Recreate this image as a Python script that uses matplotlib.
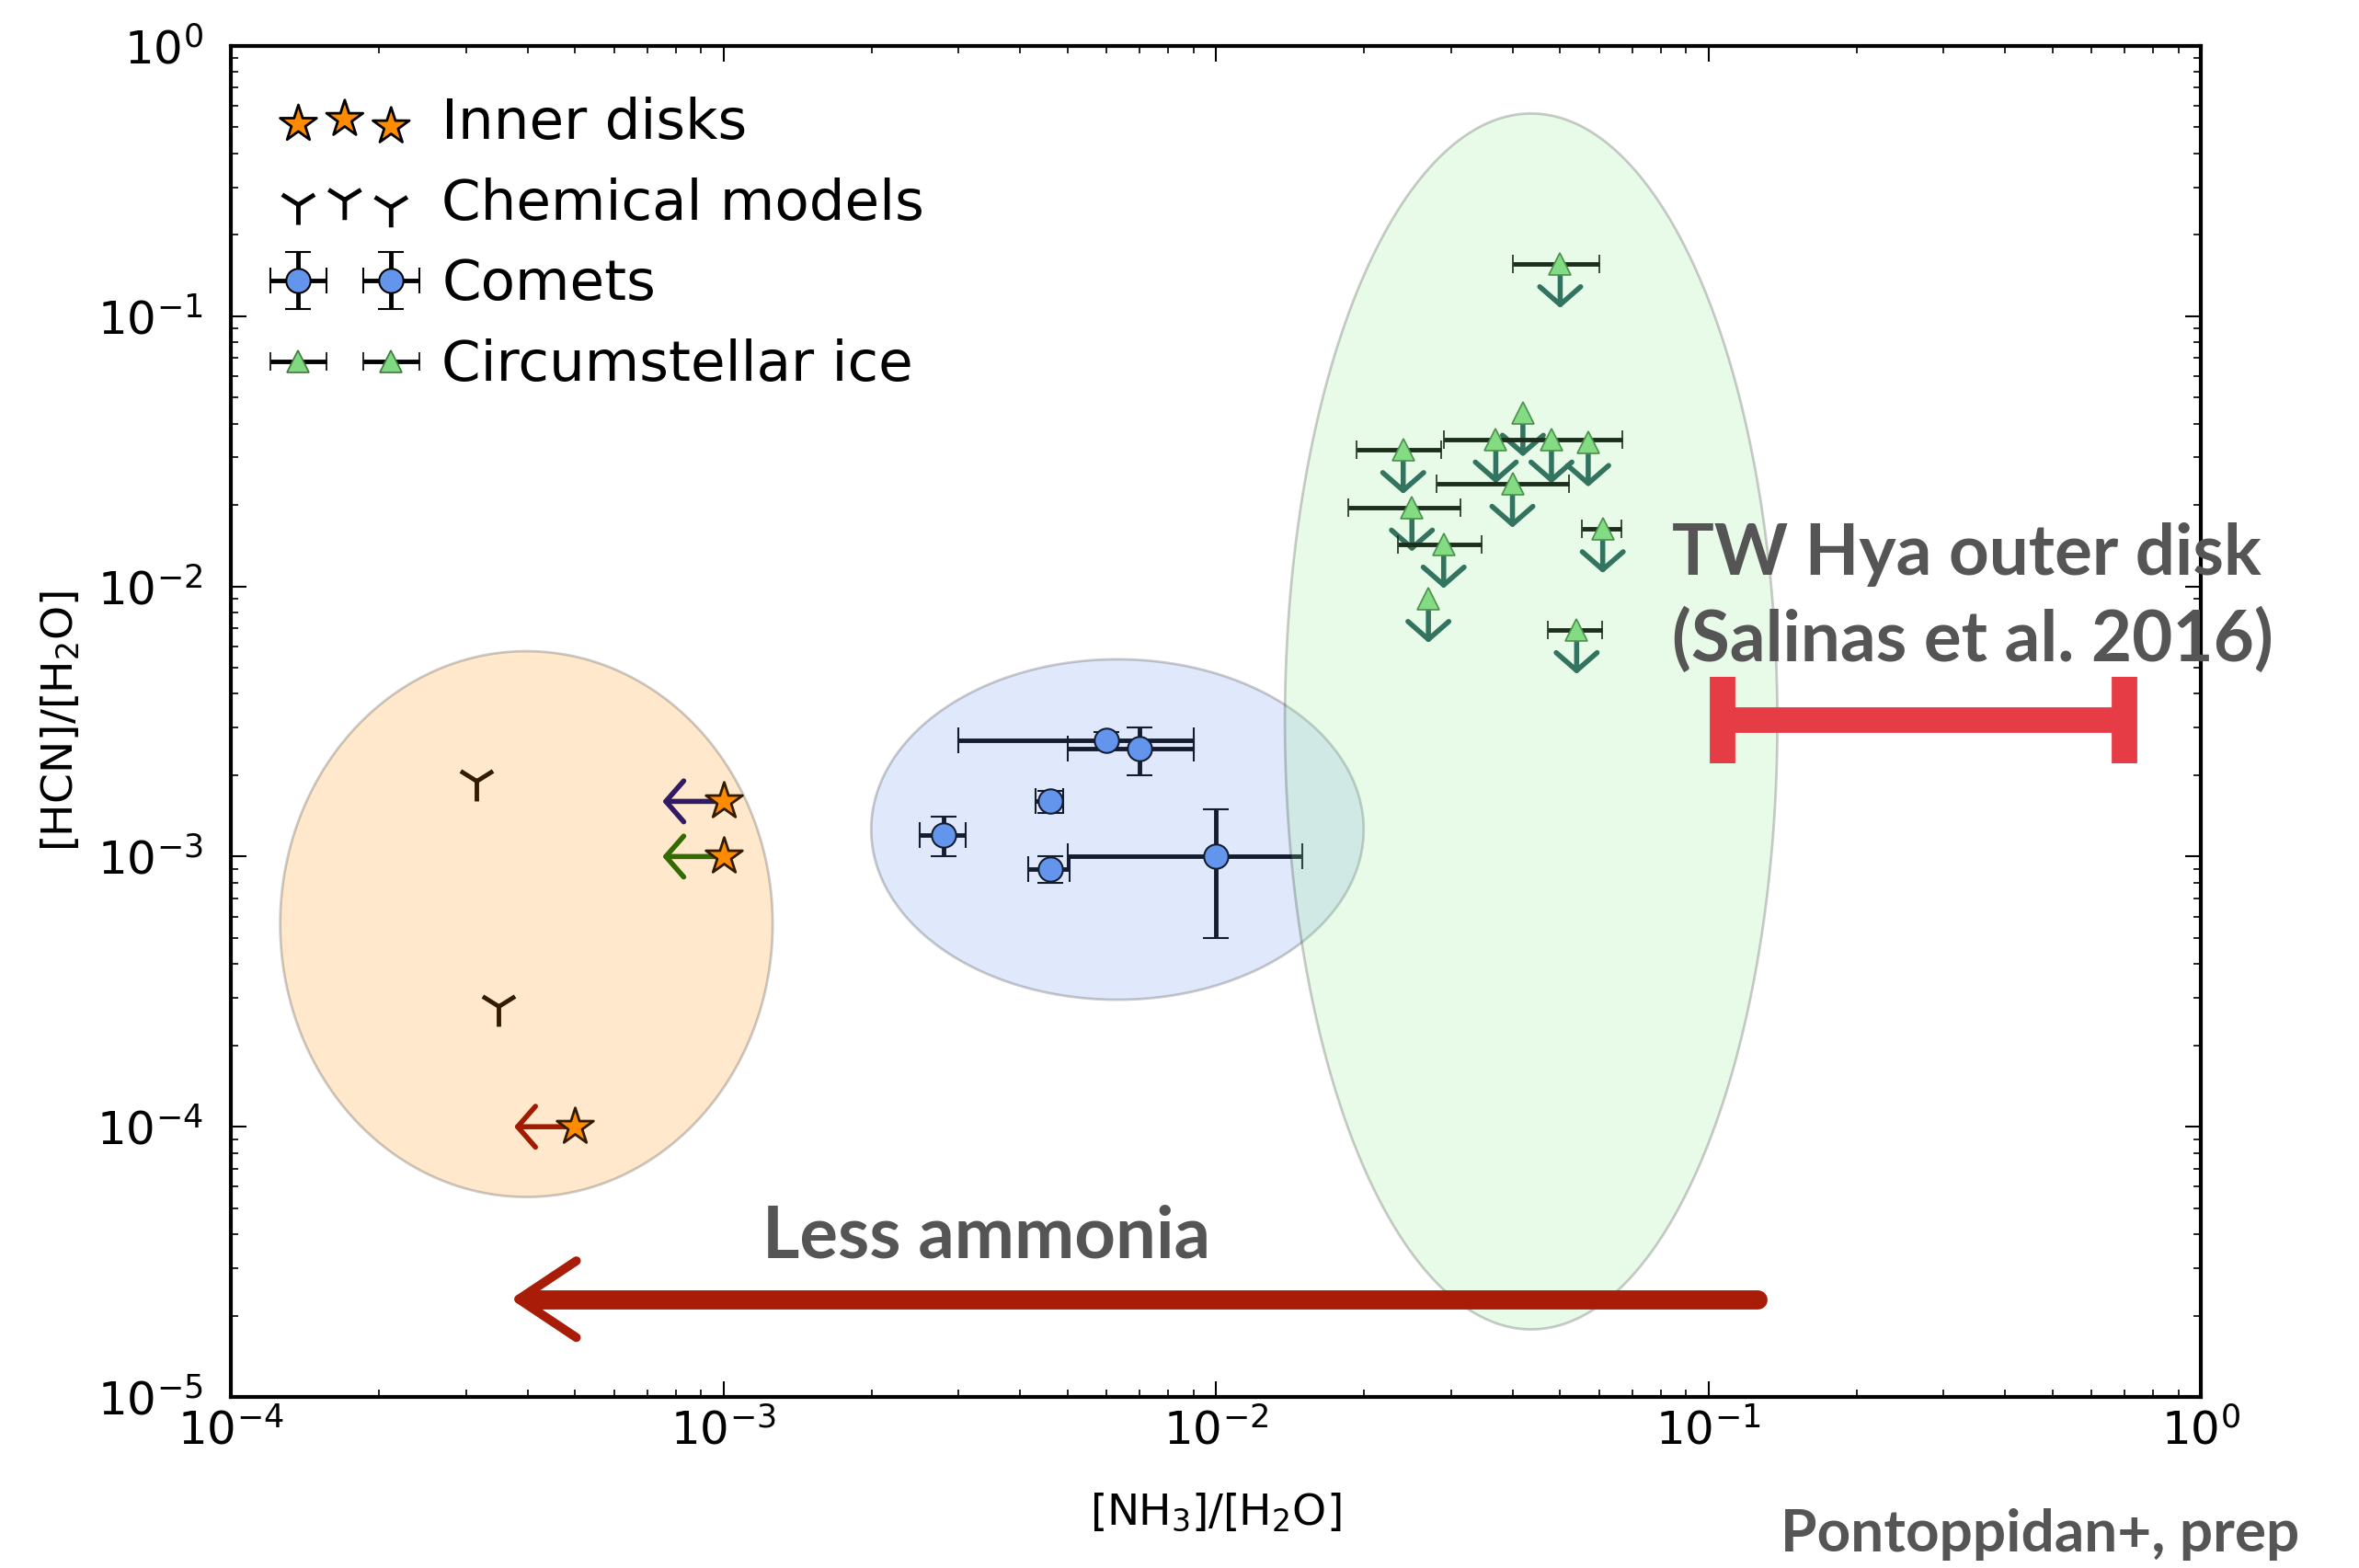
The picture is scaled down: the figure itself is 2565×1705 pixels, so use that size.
import numpy as np
import matplotlib
matplotlib.use('Agg')
import matplotlib.pyplot as plt

# inner disks (upper limits on NH3)
inner_x = [1.0e-3, 1.0e-3, 5.0e-4]
inner_y = [1.6e-3, 1.0e-3, 1.0e-4]
inner_arrow_col = ['navy', 'darkgreen', 'darkred']

# chemical models
chem_x = [3.15e-4, 3.5e-4]
chem_y = [1.9e-3, 2.8e-4]

# comets
comet_x = [6.0e-3, 7.0e-3, 4.6e-3, 2.8e-3, 4.6e-3, 1.0e-2]
comet_y = [2.7e-3, 2.5e-3, 1.6e-3, 1.2e-3, 0.9e-3, 1.0e-3]
comet_xerr = [3.0e-3, 2.0e-3, 3.0e-4, 3.0e-4, 4.4e-4, 5.0e-3]
comet_yerr = [2.0e-4, 5.0e-4, 1.5e-4, 2.0e-4, 1.0e-4, 5.0e-4]

# circumstellar ice (upper limits on HCN)
ice_x = [0.050, 0.042, 0.037, 0.048, 0.057, 0.024, 0.040, 0.025, 0.029, 0.027, 0.061, 0.054]
ice_y = [0.156, 0.044, 0.035, 0.035, 0.034, 0.032, 0.024, 0.0196, 0.0143, 0.009, 0.0163, 0.0069]
ice_xerr = [0.010, 0.0, 0.0, 0.019, 0.0, 0.0047, 0.012, 0.0064, 0.0056, 0.0, 0.0057, 0.0069]

# TW Hya outer disk range
tw_x = [0.107, 0.70]
tw_y = 3.2e-3

# "less ammonia" arrow
amm_x = [0.126, 3.7e-4]
amm_y = 2.3e-5

# shaded regions in log10 space: centre x, centre y, half width, half height
reg_cx = [-3.40, -2.20, -1.36]
reg_cy = [-3.25, -2.90, -2.50]
reg_hw = [0.50, 0.50, 0.50]
reg_hh = [1.01, 0.63, 2.25]
reg_col = ['darkorange', 'cornflowerblue', 'lightgreen']

fig = plt.figure(figsize=(25.65, 17.05), dpi=100)
ax = fig.add_axes([0.0979, 0.1091, 0.8351, 0.8616])
ax.set_xscale('log')
ax.set_yscale('log')

ax.scatter(inner_x, inner_y, marker='*', s=900, c='darkorange', edgecolors='k',
           linewidths=2, zorder=4, label='Inner disks')
for x, y, c in zip(inner_x, inner_y, inner_arrow_col):
    ax.annotate('', xy=(x / 1.33, y), xytext=(x, y),
                arrowprops=dict(arrowstyle='->,head_length=0.35,head_width=0.4', color=c,
                                lw=4, mutation_scale=40, shrinkA=0, shrinkB=0), zorder=3)

ax.scatter(chem_x, chem_y, marker='1', s=1000, c='k', linewidths=3.5, zorder=4,
           label='Chemical models')

ax.errorbar(comet_x, comet_y, xerr=comet_xerr, yerr=comet_yerr, fmt='o', mfc='cornflowerblue',
            mec='k', ms=19, mew=1.5, ecolor='k', elinewidth=3.5, capsize=10, capthick=3.5,
            zorder=3, label='Comets')

ax.errorbar(ice_x, ice_y, xerr=ice_xerr, fmt='^', mfc='#80d880', mec='#3a7a3a', ms=17, mew=1.2,
            ecolor='k', elinewidth=3.5, capsize=7, capthick=2.5, zorder=3,
            label='Circumstellar ice')
for x, y in zip(ice_x, ice_y):
    ax.annotate('', xy=(x, y * 0.687), xytext=(x, y),
                arrowprops=dict(arrowstyle='->,head_length=0.35,head_width=0.4', color='#1d5656',
                                lw=4, mutation_scale=40, shrinkA=0, shrinkB=0), zorder=2)

# shaded ellipses drawn on top with transparency
t = np.linspace(0, 2 * np.pi, 400)
for cx, cy, hw, hh, col in zip(reg_cx, reg_cy, reg_hw, reg_hh, reg_col):
    ax.fill(10 ** (cx + hw * np.cos(t)), 10 ** (cy + hh * np.sin(t)), fc=col, ec='k',
            alpha=0.2, lw=2, zorder=5)

# TW Hya bar
ax.plot(tw_x, [tw_y, tw_y], color='#e63c46', lw=20, solid_capstyle='butt', zorder=6)
ax.vlines(tw_x, tw_y / 1.45, tw_y * 1.45, color='#e63c46', lw=20, zorder=6)
ax.text(0.0843, 0.0110, 'TW Hya outer disk', fontsize=55, family='Lato', weight='bold',
        color='#555555', va='baseline', zorder=7)
ax.text(0.0843, 0.0053, '(Salinas et al. 2016)', fontsize=55, family='Lato', weight='bold',
        color='#555555', va='baseline', zorder=7)

# less ammonia arrow: thick shaft, thin open head
ax.plot([amm_x[0], amm_x[1] * 1.12], [amm_y, amm_y], color='#a81c08', lw=15,
        solid_capstyle='round', zorder=6)
ax.annotate('', xy=(amm_x[1], amm_y), xytext=(amm_x[1] * 1.6, amm_y),
            arrowprops=dict(arrowstyle='->,head_length=0.45,head_width=0.3', color='#a81c08',
                            lw=7, mutation_scale=100, shrinkA=0, shrinkB=0,
                            capstyle='round'), zorder=6)
ax.text(1.2e-3, 3.29e-5, 'Less ammonia', fontsize=56, family='Lato', weight='bold',
        color='#555555', va='baseline', zorder=7)

ax.set_xlim(1e-4, 1)
ax.set_ylim(1e-5, 1)
ax.tick_params(which='both', direction='in', top=True, right=True, labelsize=36)
ax.tick_params(which='major', length=12, width=1.5)
ax.tick_params(which='minor', length=6, width=1.2)
ax.tick_params(axis='x', pad=9)
ax.tick_params(axis='y', pad=22)
for s in ax.spines.values():
    s.set_linewidth(3)

ax.set_xlabel('[NH$_3$]/[H$_2$O]', fontsize=34, labelpad=29)
ax.set_ylabel('[HCN]/[H$_2$O]', fontsize=34, labelpad=11)

ax.legend(loc='upper left', frameon=False, fontsize=44, scatterpoints=3,
          scatteryoffsets=[0.375, 0.5, 0.3125], numpoints=2, handlelength=2.25,
          handletextpad=0.6, labelspacing=0.47, borderaxespad=0.5)

fig.text(2500 / 2565, 1 - 1687 / 1705, 'Pontoppidan+, prep', fontsize=46, family='Lato',
         weight='bold', color='#555555', ha='right', va='baseline')

fig.savefig('out.png', dpi=100)
